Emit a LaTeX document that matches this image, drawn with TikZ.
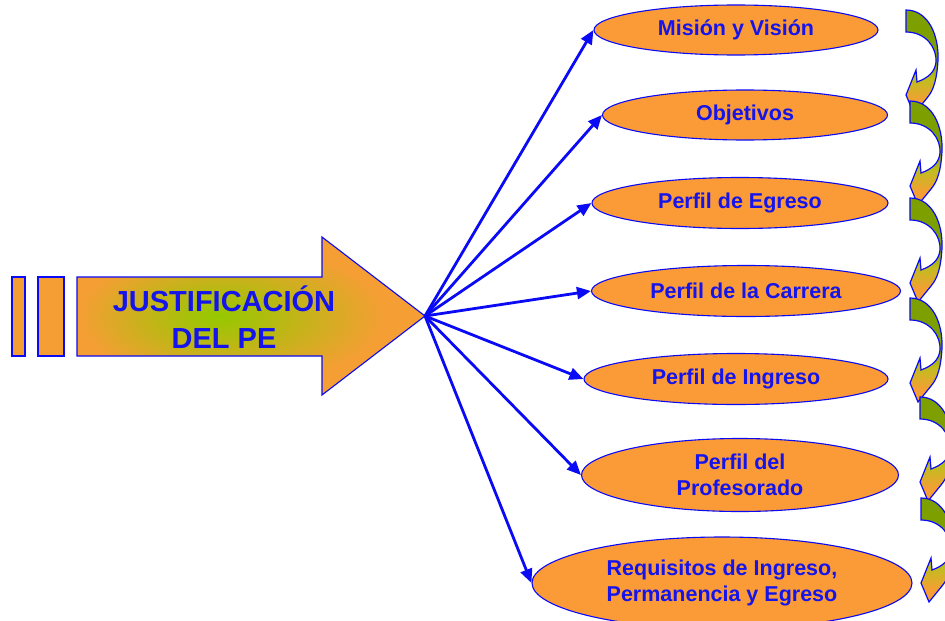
\documentclass[tikz,border=0pt]{standalone}
\usepackage{fontspec}
\setmainfont{Liberation Sans}
\usetikzlibrary{shapes.geometric,arrows.meta}
\definecolor{eorange}{RGB}{250,155,55}
\definecolor{tblue}{RGB}{20,20,235}
\definecolor{lblue}{RGB}{10,10,245}
\definecolor{jgreen}{RGB}{150,200,0}
\definecolor{jorange}{RGB}{245,158,52}
\definecolor{olivegr}{RGB}{125,160,0}
\definecolor{ygreen}{RGB}{190,190,30}
\pgfdeclareradialshading{jshade}{\pgfpoint{-5bp}{0bp}}{color(0bp)=(jgreen); color(5bp)=(jgreen!80!jorange); color(22bp)=(jorange); color(50bp)=(jorange)}
\pgfdeclareverticalshading{cshade}{100bp}{color(0bp)=(jorange); color(31bp)=(jorange); color(42bp)=(ygreen); color(50bp)=(olivegr); color(100bp)=(olivegr)}
\tikzset{
  ell/.style={ellipse, draw=lblue, line width=1.1pt, fill=eorange, inner sep=0pt,
    text=tblue, font=\fontsize{21.5}{26.5}\selectfont\bfseries, align=center},
  conn/.style={draw=lblue, line width=2.8pt, -{Triangle[length=14pt,width=12pt]}},
  carrow/.style={draw=lblue, line width=1.2pt, shading=cshade},
  bar/.style={draw=lblue, line width=1.1pt, fill=jorange}
}
\newcommand{\curvarrow}[2]{%
  \begin{scope}[shift={(#1,#2)}]
    \path[carrow] (0,0) .. controls (22,0) and (33,25) .. (32,50)
      .. controls (31,68) and (28,80) .. (21,88) -- (8,104) -- (0,85) -- (10,60) -- (11,72)
      .. controls (22,68) and (29,62) .. (30,52)
      .. controls (31,38) and (20,22) .. (0,22) -- cycle;
  \end{scope}}
\begin{document}
\begin{tikzpicture}[x=1pt,y=-1pt]
\useasboundingbox (0,0) rectangle (945,621);
\clip (0,0) rectangle (945,621);
% left bars
\path[bar] (12,277) rectangle (25,356);
\path[bar] (38,277) rectangle (64,356);
% big arrow
\path[draw=lblue, line width=1.1pt, shading=jshade] (77,277) -- (322,277) -- (322,237) -- (425,316)
  -- (322,395) -- (322,356) -- (77,356) -- cycle;
\coordinate (hub) at (425,316);
\node[text=tblue, font=\fontsize{29}{37}\selectfont\bfseries, align=center] (jt) at (224,317) {JUSTIFICACIÓN\\DEL PE};
% ellipses
\node[ell, minimum width=284pt, minimum height=50pt] (e1) at (736,30) {Misión y Visión};
\node[ell, minimum width=285pt, minimum height=50pt] (e2) at (745,115) {Objetivos};
\node[ell, minimum width=296pt, minimum height=51pt] (e3) at (740,203) {Perfil de Egreso};
\node[ell, minimum width=309pt, minimum height=51pt] (e4) at (746,291) {Perfil de la Carrera};
\node[ell, minimum width=304pt, minimum height=51pt] (e5) at (736,379) {Perfil de Ingreso};
\node[ell, minimum width=317pt, minimum height=73pt] (e6) at (740,475) {Perfil del\\Profesorado};
\node[ell, minimum width=380pt, minimum height=92pt] (e7) at (722,583) {Requisitos de Ingreso,\\Permanencia y Egreso};
% connectors
\foreach \n in {e1,e2,e3,e4,e5,e6,e7} \draw[conn] (hub) -- (\n.west);
% curved arrows
\curvarrow{906}{10}
\curvarrow{910}{101}
\curvarrow{910}{198}
\curvarrow{910}{298}
\curvarrow{920}{397}
\curvarrow{921}{498}
\end{tikzpicture}
\end{document}
